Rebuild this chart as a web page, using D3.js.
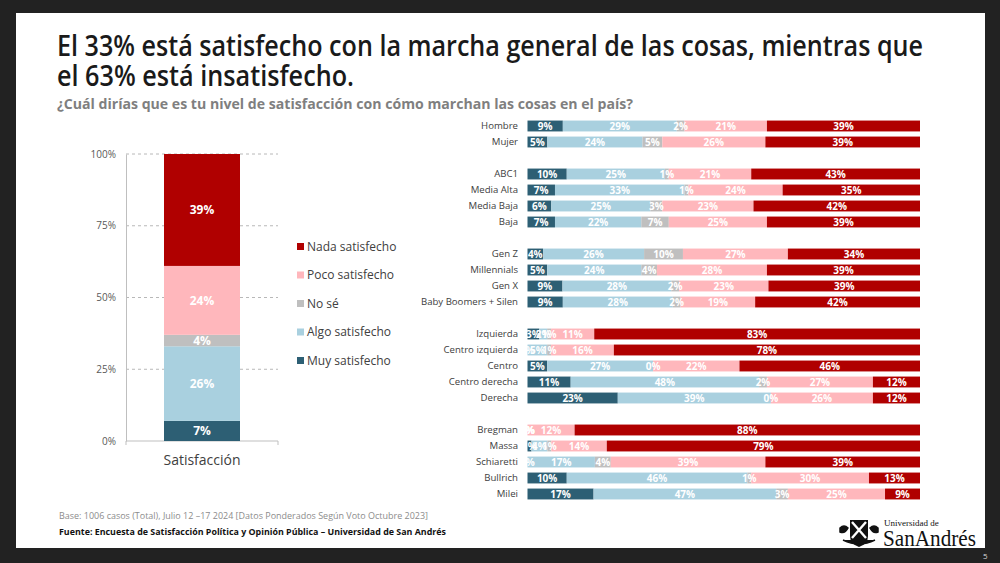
<!DOCTYPE html>
<html>
<head>
  <meta charset="utf-8">
  <script src="https://d3js.org/d3.v7.min.js"></script>
</head>
<style>
  body { margin: 0; background: #222222; }
  svg { display: block; font-family: 'Open Sans', sans-serif; }
</style>
<body>
  <svg width="1000" height="563"></svg>

  <script>
    // Series, bottom/left to top/right
    const seriesNames = ['Muy satisfecho', 'Algo satisfecho', 'No sé', 'Poco satisfecho', 'Nada satisfecho'];
    const seriesColors = ['#2d5f74', '#a9d0df', '#bfbfbf', '#ffb7bc', '#b00000'];

    // Overall column
    const totalCategory = 'Satisfacción';
    const totalValues = [7, 26, 4, 24, 39];
    const yTicks = [0, 0.25, 0.5, 0.75, 1];

    // Breakdown rows, in groups
    const categories = [
      'Hombre', 'Mujer',
      'ABC1', 'Media Alta', 'Media Baja', 'Baja',
      'Gen Z', 'Millennials', 'Gen X', 'Baby Boomers + Silen',
      'Izquierda', 'Centro izquierda', 'Centro', 'Centro derecha', 'Derecha',
      'Bregman', 'Massa', 'Schiaretti', 'Bullrich', 'Milei'
    ];
    const groupSizes = [2, 4, 4, 5, 5];

    const muy  = [9, 5, 10, 7, 6, 7, 4, 5, 9, 9, 3, 0, 5, 11, 23, 0, 1, 0, 10, 17];
    const algo = [29, 24, 25, 33, 25, 22, 26, 24, 28, 28, 2, 5, 27, 48, 39, 0, 4, 17, 46, 47];
    const nose = [2, 5, 1, 1, 3, 7, 10, 4, 2, 2, 1, 1, 0, 2, 0, 0, 1, 4, 1, 3];
    const poco = [21, 26, 21, 24, 23, 25, 27, 28, 23, 19, 11, 16, 22, 27, 26, 12, 14, 39, 30, 25];
    const nada = [39, 39, 43, 35, 42, 39, 34, 39, 39, 42, 83, 78, 46, 12, 12, 88, 79, 39, 13, 9];

    const svg = d3.select('svg');

    // slide background
    svg.append('rect')
      .attr('x', 16).attr('y', 13)
      .attr('width', 969).attr('height', 535)
      .attr('fill', '#ffffff');

    // title
    const title = svg.append('g').attr('font-weight', 600).attr('fill', '#1a1a1a').attr('font-size', 28);
    title.append('text').attr('x', 57).attr('y', 56)
      .attr('textLength', 866).attr('lengthAdjust', 'spacingAndGlyphs')
      .text('El 33% está satisfecho con la marcha general de las cosas, mientras que');
    title.append('text').attr('x', 57).attr('y', 86)
      .attr('textLength', 297).attr('lengthAdjust', 'spacingAndGlyphs')
      .text('el 63% está insatisfecho.');

    svg.append('text')
      .attr('x', 57).attr('y', 109)
      .attr('font-size', 15).attr('font-weight', 700).attr('fill', '#7f7f7f')
      .attr('textLength', 576).attr('lengthAdjust', 'spacingAndGlyphs')
      .text('¿Cuál dirías que es tu nivel de satisfacción con cómo marchan las cosas en el país?');

    // ---------- left: overall column ----------
    const y = d3.scaleLinear().domain([0, 1]).range([441, 154]);
    const xc = d3.scaleBand().domain([totalCategory]).range([126, 278])
      .paddingInner(0).paddingOuter(0.5);

    const left = svg.append('g');

    // dashed grid
    left.selectAll('.grid')
      .data(yTicks.filter(d => d > 0))
      .enter()
      .append('line')
      .attr('x1', 126).attr('x2', 278)
      .attr('y1', d => y(d)).attr('y2', d => y(d))
      .attr('stroke', '#a6a6a6').attr('stroke-width', 0.8)
      .attr('stroke-dasharray', '3,3');

    const yAxis = left.append('g')
      .attr('transform', 'translate(126,0)')
      .call(d3.axisLeft(y).tickValues(yTicks).tickFormat(d3.format('.0%')).tickSize(0).tickPadding(10));
    yAxis.select('.domain').attr('stroke', '#bfbfbf');
    yAxis.selectAll('text').attr('font-size', 10).attr('fill', '#595959').attr('font-family', 'Open Sans');

    const xAxis = left.append('g')
      .attr('transform', 'translate(0,441)')
      .call(d3.axisBottom(xc).tickSize(0).tickPadding(14));
    xAxis.select('.domain').attr('stroke', '#bfbfbf').attr('d', 'M126,4V0H278V4');
    xAxis.selectAll('text').attr('font-size', 14).attr('fill', '#404040').attr('font-family', 'Open Sans');

    const totalSum = d3.sum(totalValues);
    let acc = 0;
    const totalStack = totalValues.map((v, i) => {
      const seg = {i: i, v: v, y0: acc / totalSum, y1: (acc + v) / totalSum};
      acc += v;
      return seg;
    });

    left.selectAll('.tbar')
      .data(totalStack)
      .enter()
      .append('rect')
      .attr('x', xc(totalCategory))
      .attr('width', xc.bandwidth())
      .attr('y', d => y(d.y1))
      .attr('height', d => y(d.y0) - y(d.y1))
      .attr('fill', d => seriesColors[d.i]);

    left.selectAll('.tlabel')
      .data(totalStack)
      .enter()
      .append('text')
      .attr('x', xc(totalCategory) + xc.bandwidth() / 2)
      .attr('y', d => y((d.y0 + d.y1) / 2))
      .attr('dy', '0.35em')
      .attr('text-anchor', 'middle')
      .attr('font-size', 12).attr('font-weight', 700).attr('fill', '#ffffff')
      .text(d => d.v + '%');

    // legend
    const legend = left.selectAll('.legend')
      .data(d3.range(seriesNames.length).reverse())
      .enter()
      .append('g')
      .attr('transform', (d, k) => `translate(297,${246.5 + k * 28.5})`);
    legend.append('rect')
      .attr('x', 0).attr('y', -3.5).attr('width', 7).attr('height', 7)
      .attr('fill', d => seriesColors[d]);
    legend.append('text')
      .attr('x', 10).attr('dy', '0.35em')
      .attr('font-size', 12).attr('fill', '#404040')
      .text(d => seriesNames[d]);

    // ---------- right: breakdown bars ----------
    const rows = [];
    let idx = 0;
    groupSizes.forEach((n, g) => {
      if (g > 0) rows.push('gap' + g);
      for (let k = 0; k < n; k++) rows.push(categories[idx++]);
    });

    const yb = d3.scaleBand().domain(rows).range([118, 502]).paddingInner(0.32).paddingOuter(0.16);
    const xb = d3.scaleLinear().domain([0, 1]).range([527.5, 920]);

    const table = categories.map((c, i) => ({
      cat: c, s0: muy[i], s1: algo[i], s2: nose[i], s3: poco[i], s4: nada[i]
    }));
    const keys = ['s0', 's1', 's2', 's3', 's4'];
    const stacked = d3.stack().keys(keys).offset(d3.stackOffsetExpand)(table);

    const right = svg.append('g');

    right.selectAll('.cat')
      .data(categories)
      .enter()
      .append('text')
      .attr('x', 518)
      .attr('y', d => yb(d) + yb.bandwidth() / 2)
      .attr('dy', '0.35em')
      .attr('text-anchor', 'end')
      .attr('font-size', 9.6).attr('fill', '#404040')
      .text(d => d);

    const layer = right.selectAll('.layer')
      .data(stacked)
      .enter()
      .append('g')
      .attr('fill', (d, i) => seriesColors[i]);

    layer.selectAll('rect')
      .data(d => d)
      .enter()
      .append('rect')
      .attr('x', d => xb(d[0]))
      .attr('width', d => xb(d[1]) - xb(d[0]))
      .attr('y', d => yb(d.data.cat))
      .attr('height', yb.bandwidth());

    const labels = right.append('g');
    stacked.forEach(s => {
      labels.selectAll('.l' + s.key)
        .data(s)
        .enter()
        .append('text')
        .attr('x', d => xb((d[0] + d[1]) / 2))
        .attr('y', d => yb(d.data.cat) + yb.bandwidth() / 2)
        .attr('dy', '0.36em')
        .attr('text-anchor', 'middle')
        .attr('font-size', 10).attr('font-weight', 700).attr('fill', '#ffffff')
        .text(d => d.data[s.key] + '%');
    });

    // ---------- footer ----------
    svg.append('text')
      .attr('x', 59).attr('y', 519)
      .attr('font-size', 9.5).attr('fill', '#8c8c8c')
      .attr('textLength', 369).attr('lengthAdjust', 'spacingAndGlyphs')
      .text('Base: 1006 casos (Total), Julio 12 \u201317 2024 [Datos Ponderados Según Voto Octubre 2023]');
    svg.append('text')
      .attr('x', 59).attr('y', 535)
      .attr('font-size', 9.5).attr('font-weight', 700).attr('fill', '#111111')
      .attr('textLength', 387).attr('lengthAdjust', 'spacingAndGlyphs')
      .text('Fuente: Encuesta de Satisfacción Política y Opinión Pública \u2013 Universidad de San Andrés');

    // logo
    const logo = svg.append('g').attr('transform', 'translate(838,518)');
    logo.append('path')
      .attr('d', 'M12,2H30V18Q30,26 21,29Q12,26 12,18Z')
      .attr('fill', '#111111');
    logo.append('path')
      .attr('d', 'M14,4L28,20M28,4L14,20')
      .attr('stroke', '#ffffff').attr('stroke-width', 2.4);
    logo.append('path')
      .attr('d', 'M2,10Q6,6 10,10Q7,16 2,14Z M40,10Q36,6 32,10Q35,16 40,14Z M5,22Q21,30 37,22')
      .attr('fill', '#111111').attr('stroke', '#111111').attr('stroke-width', 1.5);
    svg.append('text')
      .attr('x', 884).attr('y', 526)
      .attr('font-family', 'Liberation Serif').attr('font-size', 9).attr('fill', '#111111')
      .text('Universidad de');
    svg.append('text')
      .attr('x', 883).attr('y', 546)
      .attr('font-family', 'Liberation Serif').attr('font-size', 24).attr('fill', '#111111')
      .attr('textLength', 93).attr('lengthAdjust', 'spacingAndGlyphs')
      .text('SanAndrés');

    // page number
    svg.append('text')
      .attr('x', 983).attr('y', 559)
      .attr('font-size', 8).attr('fill', '#d9d9d9')
      .text('5');
  </script>
</body>
</html>
